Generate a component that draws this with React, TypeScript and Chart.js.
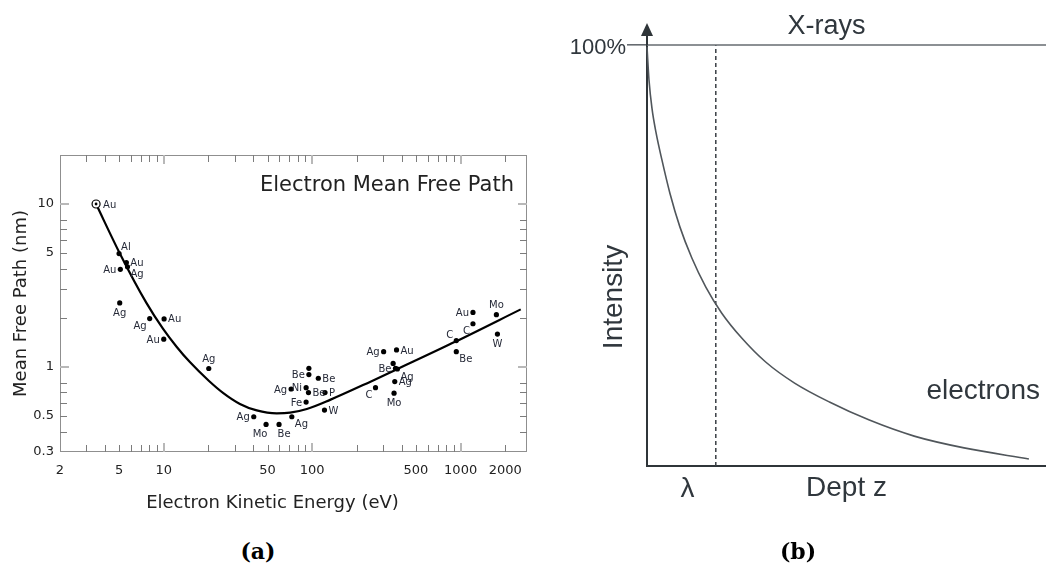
import React, { useEffect, useRef } from "react";
import { Chart, registerables } from "chart.js";
Chart.register(...registerables);

// ---------------- Panel (a): Electron mean free path ----------------
const curveEnergy = [3.5, 5.05, 7.64, 9.9, 12.2, 15, 20.1, 25.2, 32.6, 42.3, 57.7, 71, 92, 132, 247, 364, 925, 2540];
const curveMfp = [10, 4.99, 2.47, 1.71, 1.33, 1.07, 0.822, 0.69, 0.592, 0.54, 0.518, 0.523, 0.551, 0.627, 0.811, 0.957, 1.429, 2.254];

const sampleElement = ["Au", "Al", "Au", "Ag", "Au", "Ag", "Ag", "Au", "Au", "Ag", "Ag", "Mo", "Be", "Ag", "Fe", "Ag", "Ni", "Be", "Be", "", "Be", "P", "W", "Ag", "Au", "", "Be", "Ag", "Ag", "Mo", "C", "C", "Be", "C", "Au", "Mo", "W"];
const sampleEnergy = [3.5, 5, 5.6, 5.7, 5.1, 5.05, 8.04, 10.05, 10, 20.1, 40.4, 48.9, 59.8, 72.9, 91, 72.1, 91, 94.4, 95, 95, 110, 122, 121, 303, 370, 351, 364, 375, 360, 356, 267, 935, 935, 1211, 1211, 1742, 1770];
const sampleMfp = [10, 4.96, 4.37, 4.12, 3.97, 2.47, 1.98, 1.97, 1.48, 0.977, 0.494, 0.443, 0.443, 0.494, 0.608, 0.731, 0.745, 0.695, 0.897, 0.98, 0.851, 0.695, 0.543, 1.24, 1.27, 1.05, 0.98, 0.97, 0.812, 0.689, 0.745, 1.45, 1.24, 1.84, 2.16, 2.09, 1.59];
// where each element label sits relative to its dot
const sampleLabelSide = ["rr", "tr", "r", "br", "l", "b", "bl", "r", "l", "t", "l", "bw", "be", "br", "l", "l", "l", "r", "l", "", "r", "r", "r", "l", "r", "", "l", "br", "r", "b", "bl", "tl", "br", "bl", "l", "t", "b"];

const xLabelTicks = [2, 5, 10, 50, 100, 500, 1000, 2000];
const xMarkTicks = [3, 4, 5, 6, 7, 8, 9, 10, 20, 30, 40, 50, 60, 70, 80, 90, 100, 200, 300, 400, 500, 600, 700, 800, 900, 1000, 2000];
const xMajorTicks = [10, 100, 1000];
const yLabelTicks = [0.3, 0.5, 1, 5, 10];
const yMarkTicks = [0.4, 0.5, 0.6, 0.7, 0.8, 1, 2, 3, 4, 5, 6, 7, 8, 10];
const yMajorTicks = [1, 10];

// ---------------- Panel (b): intensity vs depth ----------------
const depthZ = [0, 0.029, 0.072, 0.13, 0.217, 0.333, 0.478, 0.652, 0.855, 1.087, 1.377, 1.725, 2.145, 2.652, 3.232, 3.884, 4.609, 5.551];
const electronIntensity = [99.5, 91.7, 85.0, 79.3, 72.7, 64.8, 56.8, 49.4, 42.5, 36.3, 30.4, 24.7, 19.7, 15.2, 10.9, 7.1, 4.3, 1.66];
const xrayDepth = [0, 5.8];
const xrayIntensity = [100, 100];
const lambdaDepth = 1;
const lambdaIntensity = [0, 100];

const SANS_A = '"DejaVu Sans", Verdana, sans-serif';
const SANS_B = '"Liberation Sans", Arial, sans-serif';
const TXT_B = "#30373d";

const sideOffsets: Record<string, [number, number, CanvasTextAlign]> = {
  r: [4, 1, "left"],
  rr: [7, 1, "left"],
  l: [-4, 1, "right"],
  t: [0, -9, "center"],
  b: [0, 10, "center"],
  bw: [-6, 10, "center"],
  be: [5, 10, "center"],
  tr: [2, -6, "left"],
  br: [3, 8, "left"],
  bl: [-3, 8, "right"],
  tl: [-3, -5, "right"],
};

const panelAPlugin = {
  id: "panelA",
  beforeDatasetsDraw(chart: any) {
    const { ctx, chartArea: a, scales } = chart;
    const x = scales.x, y = scales.y;
    ctx.save();
    ctx.strokeStyle = "#8f8f8f";
    ctx.lineWidth = 1;
    ctx.strokeRect(Math.round(a.left) + 0.5, Math.round(a.top) + 0.5, Math.round(a.width) - 1, Math.round(a.height) - 1);
    const tick = (x1: number, y1: number, x2: number, y2: number, major: boolean) => {
      ctx.strokeStyle = major ? "#b8b8b8" : "#7c7c7c";
      ctx.lineWidth = major ? 2 : 1;
      ctx.beginPath();
      ctx.moveTo(x1, y1);
      ctx.lineTo(x2, y2);
      ctx.stroke();
    };
    xMarkTicks.forEach((v) => {
      const major = xMajorTicks.includes(v);
      const p = Math.round(x.getPixelForValue(v)) + (major ? 0 : 0.5);
      const len = major ? 9 : 7;
      tick(p, a.bottom, p, a.bottom - len, major);
      tick(p, a.top, p, a.top + len, major);
    });
    yMarkTicks.forEach((v) => {
      const major = yMajorTicks.includes(v);
      const p = Math.round(y.getPixelForValue(v)) + (major ? 0 : 0.5);
      const len = major ? 9 : 7;
      tick(a.left, p, a.left + len, p, major);
      tick(a.right, p, a.right - len, p, major);
    });
    ctx.restore();
  },
  afterDraw(chart: any) {
    const { ctx, chartArea: a, scales } = chart;
    const x = scales.x, y = scales.y;
    ctx.save();
    ctx.font = `10px ${SANS_A}`;
    ctx.fillStyle = "#262a38";
    ctx.textBaseline = "middle";
    sampleElement.forEach((name, i) => {
      const side = sampleLabelSide[i];
      if (!name || !side) return;
      const [dx, dy, align] = sideOffsets[side];
      ctx.textAlign = align;
      ctx.fillText(name, x.getPixelForValue(sampleEnergy[i]) + dx, y.getPixelForValue(sampleMfp[i]) + dy);
    });
    // inner title
    ctx.font = `21px ${SANS_A}`;
    ctx.fillStyle = "#222";
    ctx.textAlign = "right";
    ctx.fillText("Electron Mean Free Path", a.right - 13, a.top + 31);
    // x-axis title
    ctx.font = `18px ${SANS_A}`;
    ctx.textAlign = "center";
    ctx.fillText("Electron Kinetic Energy (eV)", a.left + 0.455 * a.width, a.bottom + 51);
    ctx.restore();
  },
};

const panelBPlugin = {
  id: "panelB",
  afterDraw(chart: any) {
    const { ctx, chartArea: a, scales } = chart;
    const x = scales.x;
    ctx.save();
    // axis arrow
    const ax = Math.round(a.left);
    ctx.strokeStyle = "#2f3539";
    ctx.fillStyle = "#2f3539";
    ctx.lineWidth = 2;
    ctx.beginPath();
    ctx.moveTo(ax, a.top);
    ctx.lineTo(ax, a.top - 12);
    ctx.stroke();
    ctx.beginPath();
    ctx.moveTo(ax, a.top - 22);
    ctx.lineTo(ax - 6, a.top - 9);
    ctx.lineTo(ax + 6, a.top - 9);
    ctx.closePath();
    ctx.fill();
    // texts
    ctx.fillStyle = TXT_B;
    ctx.textBaseline = "middle";
    ctx.textAlign = "center";
    ctx.font = `27px ${SANS_B}`;
    ctx.fillText("X-rays", a.left + 0.45 * a.width, a.top - 18);
    ctx.font = `28px ${SANS_B}`;
    ctx.textAlign = "right";
    ctx.fillText("electrons", a.right - 6, a.bottom - 75);
    ctx.textAlign = "center";
    const lx = (x.getPixelForValue(0) + x.getPixelForValue(lambdaDepth)) / 2 + 6;
    ctx.fillText("\u03BB", lx, a.bottom + 23);
    ctx.translate(a.left - 33, a.top + 252);
    ctx.rotate(-Math.PI / 2);
    ctx.fillText("Intensity", 0, 0);
    ctx.restore();
  },
};

export default function App() {
  const refA = useRef<HTMLCanvasElement>(null);
  const refB = useRef<HTMLCanvasElement>(null);

  useEffect(() => {
    const chartA = new Chart(refA.current as HTMLCanvasElement, {
      type: "scatter",
      data: {
        datasets: [
          {
            label: "samples",
            data: sampleEnergy.map((e, i) => ({ x: e, y: sampleMfp[i] })),
            order: 0,
            pointRadius: (c: any) => (c.dataIndex === 0 ? 4 : 2.6),
            pointBackgroundColor: (c: any) => (c.dataIndex === 0 ? "#fff" : "#000"),
            pointBorderColor: "#000",
            pointBorderWidth: (c: any) => (c.dataIndex === 0 ? 1.2 : 0),
          } as any,
          {
            label: "reference",
            data: [{ x: sampleEnergy[0], y: sampleMfp[0] }],
            order: -1,
            pointRadius: 1.4,
            pointBackgroundColor: "#000",
            pointBorderWidth: 0,
          } as any,
          {
            label: "universal curve",
            data: curveEnergy.map((e, i) => ({ x: e, y: curveMfp[i] })),
            showLine: true,
            order: 1,
            pointRadius: 0,
            borderColor: "#000",
            borderWidth: 2.2,
            cubicInterpolationMode: "monotone",
          } as any,
        ],
      },
      options: {
        animation: false,
        responsive: false,
        devicePixelRatio: 1,
        layout: { padding: { top: 155, right: 18, left: 0, bottom: 0 } },
        plugins: { legend: { display: false }, tooltip: { enabled: false } },
        scales: {
          x: {
            type: "logarithmic",
            min: 2,
            max: 2800,
            bounds: "data",
            afterBuildTicks: (s: any) => {
              s.ticks = xLabelTicks.map((v) => ({ value: v }));
            },
            afterFit: (s: any) => {
              s.height = 68;
            },
            grid: { display: false, drawTicks: false },
            border: { display: false },
            ticks: {
              autoSkip: false,
              maxRotation: 0,
              padding: 11,
              color: "#222",
              font: { family: SANS_A, size: 13 },
              callback: (v: any) => String(v),
            },
          },
          y: {
            type: "logarithmic",
            min: 0.3,
            max: 20,
            bounds: "data",
            afterBuildTicks: (s: any) => {
              s.ticks = yLabelTicks.map((v) => ({ value: v }));
            },
            afterFit: (s: any) => {
              s.width = 60;
            },
            grid: { display: false, drawTicks: false },
            border: { display: false },
            ticks: {
              autoSkip: false,
              padding: 6,
              color: "#222",
              font: { family: SANS_A, size: 13 },
              callback: (v: any) => String(v),
            },
            title: {
              display: true,
              text: "Mean Free Path (nm)",
              color: "#222",
              font: { family: SANS_A, size: 18 },
              padding: { top: 11, bottom: 0 },
            },
          },
        },
      } as any,
      plugins: [panelAPlugin],
    });

    const chartB = new Chart(refB.current as HTMLCanvasElement, {
      type: "scatter",
      data: {
        datasets: [
          {
            label: "electrons",
            data: depthZ.map((z, i) => ({ x: z, y: electronIntensity[i] })),
            showLine: true,
            pointRadius: 0,
            borderColor: "#50565b",
            borderWidth: 1.6,
            cubicInterpolationMode: "monotone",
            clip: false,
          } as any,
          {
            label: "X-rays",
            data: xrayDepth.map((z, i) => ({ x: z, y: xrayIntensity[i] })),
            showLine: true,
            pointRadius: 0,
            borderColor: "#666b70",
            borderWidth: 1.6,
            clip: false,
          } as any,
          {
            label: "lambda",
            data: lambdaIntensity.map((v) => ({ x: lambdaDepth, y: v })),
            showLine: true,
            pointRadius: 0,
            borderColor: "#3a3f44",
            borderWidth: 1.5,
            borderDash: [4, 3],
            clip: false,
          } as any,
        ],
      },
      options: {
        animation: false,
        responsive: false,
        devicePixelRatio: 1,
        layout: { padding: { top: 45, right: 0, left: 0, bottom: 0 } },
        plugins: { legend: { display: false }, tooltip: { enabled: false } },
        scales: {
          x: {
            type: "linear",
            min: 0,
            max: 5.8,
            afterFit: (s: any) => {
              s.height = 101;
            },
            ticks: { display: false },
            grid: { display: false, drawTicks: false },
            border: { display: true, color: "#2f3539", width: 2 },
            title: {
              display: true,
              text: "Dept z",
              color: TXT_B,
              font: { family: SANS_B, size: 28 },
              padding: { top: 0, bottom: 62 },
            },
          },
          y: {
            type: "linear",
            min: 0,
            max: 100,
            afterBuildTicks: (s: any) => {
              s.ticks = [{ value: 100 }];
            },
            afterFit: (s: any) => {
              s.width = 87;
            },
            ticks: {
              callback: () => "100%",
              padding: 1,
              labelOffset: 3,
              color: TXT_B,
              font: { family: SANS_B, size: 22 },
            },
            grid: { display: true, drawOnChartArea: false, drawTicks: true, tickLength: 20, color: "#666b70", lineWidth: 1.6 },
            border: { display: true, color: "#2f3539", width: 2 },
          },
        },
      } as any,
      plugins: [panelBPlugin],
    });

    return () => {
      chartA.destroy();
      chartB.destroy();
    };
  }, []);

  const capStyle: React.CSSProperties = {
    position: "absolute",
    top: 537,
    width: 100,
    textAlign: "center",
    font: 'bold 22px "DejaVu Serif", serif',
    lineHeight: "28px",
    color: "#000",
  };

  return (
    <div style={{ position: "absolute", left: 0, top: 0, width: 1046, height: 567, background: "#fff", overflow: "hidden" }}>
      <canvas ref={refA} width={545} height={520} style={{ position: "absolute", left: 0, top: 0, width: 545, height: 520 }} />
      <canvas ref={refB} width={486} height={567} style={{ position: "absolute", left: 560, top: 0, width: 486, height: 567 }} />
      <div style={{ ...capStyle, left: 208 }}>(a)</div>
      <div style={{ ...capStyle, left: 748 }}>(b)</div>
    </div>
  );
}
